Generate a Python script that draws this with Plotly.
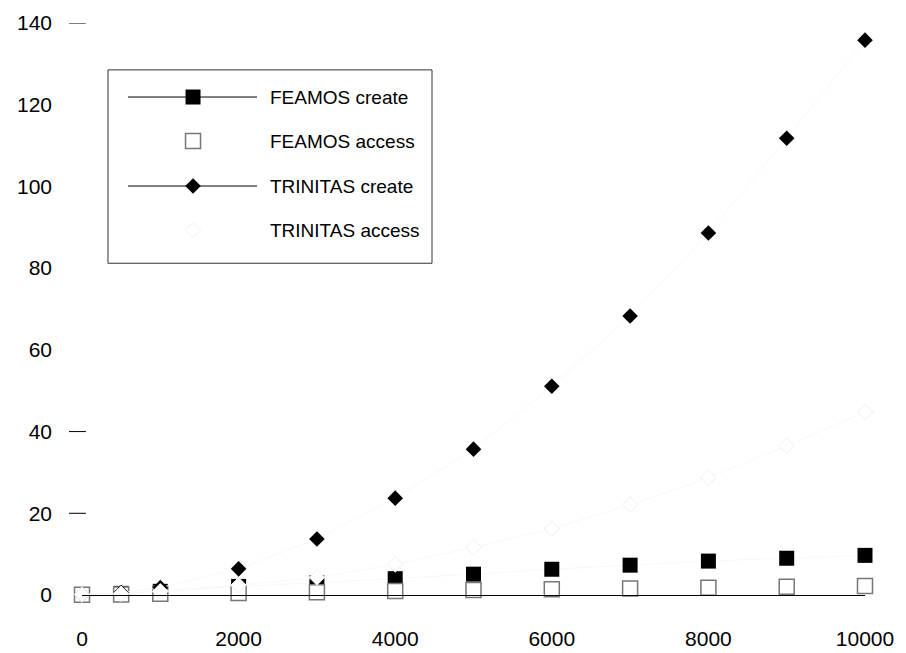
import plotly.graph_objects as go

# Benchmark data: time vs. number of objects
n_objects = [0, 500, 1000, 2000, 3000, 4000, 5000, 6000, 7000, 8000, 9000, 10000]
feamos_create = [0.1, 0.4, 0.9, 2.1, 3.0, 4.0, 5.1, 6.3, 7.3, 8.3, 9.0, 9.7]
feamos_access = [0.05, 0.15, 0.3, 0.5, 0.7, 1.0, 1.2, 1.4, 1.6, 1.8, 2.0, 2.2]
trinitas_create = [0.1, 0.6, 1.8, 6.4, 13.7, 23.7, 35.7, 51.1, 68.3, 88.6, 111.8, 135.8]
trinitas_access = [0.1, 0.3, 0.9, 2.4, 4.3, 7.5, 11.7, 16.2, 22.1, 28.7, 36.5, 44.8]

series_names = ["FEAMOS create", "FEAMOS access", "TRINITAS create", "TRINITAS access"]
y_ticks = [0, 20, 40, 60, 80, 100, 120, 140]
y_tick_marks = [20, 40, 140]
x_ticks = [0, 2000, 4000, 6000, 8000, 10000]

FONT = "Liberation Sans, Arial, sans-serif"
FAINT = "#f8f8f8"

styles = [
    dict(symbol="square", size=15, color="black", line=dict(width=0)),
    dict(symbol="square", size=15, color="white", line=dict(color="#777777", width=1.5)),
    dict(symbol="diamond", size=12, color="black", line=dict(width=0)),
    dict(symbol="diamond", size=12, color="white", line=dict(color="#efefef", width=1)),
]
has_line = [True, False, True, True]
values = [feamos_create, feamos_access, trinitas_create, trinitas_access]

fig = go.Figure()
for name, ys, mk, ln in zip(series_names, values, styles, has_line):
    fig.add_trace(go.Scatter(
        x=n_objects, y=ys, name=name, showlegend=False,
        mode="lines+markers" if ln else "markers",
        line=dict(color=FAINT, width=1),
        marker=mk, cliponaxis=False,
    ))

# Legend box drawn by hand so the sample lines are long
leg_x0, leg_x1, leg_y0, leg_y1 = 0.0332, 0.447, 0.580, 0.918
row_y = [0.8706, 0.7937, 0.7150, 0.6380]
line_x0, line_x1, sym_x, text_x = 0.0587, 0.2235, 0.1418, 0.2375

shapes = [dict(type="rect", xref="paper", yref="paper", x0=leg_x0, x1=leg_x1,
               y0=leg_y0, y1=leg_y1, line=dict(color="#333333", width=1),
               fillcolor="white", layer="below")]
annotations = []
for name, ry, ln in zip(series_names, row_y, [True, False, True, False]):
    if ln:
        shapes.append(dict(type="line", xref="paper", yref="paper", x0=line_x0, x1=line_x1,
                           y0=ry, y1=ry, line=dict(color="black", width=1), layer="below"))
    annotations.append(dict(xref="paper", yref="paper", x=text_x, y=ry, text=name,
                            showarrow=False, xanchor="left", yanchor="middle",
                            font=dict(family=FONT, size=19, color="black")))
for name, ry, mk in zip(series_names, row_y, styles):
    fig.add_trace(go.Scatter(x=[sym_x], y=[ry], xaxis="x2", yaxis="y2", mode="markers",
                             marker=mk, showlegend=False, hoverinfo="skip", cliponaxis=False))

# Short tick dashes beside selected y labels
for t in y_tick_marks:
    shapes.append(dict(type="line", xref="paper", yref="y", x0=-0.0166, x1=0.005,
                       y0=t, y1=t, line=dict(color="black", width=1)))

fig.update_layout(
    width=906, height=653,
    margin=dict(l=82, r=41, t=23, b=58),
    paper_bgcolor="white", plot_bgcolor="white",
    showlegend=False,
    font=dict(family=FONT, size=21, color="black"),
    xaxis=dict(range=[0, 10000], tickvals=x_ticks, ticktext=[str(v) for v in x_ticks],
               ticks="", showgrid=False, automargin=False,
               zeroline=False, showline=True, linecolor="black", linewidth=1,
               ticklabelstandoff=25, tickfont=dict(size=21)),
    yaxis=dict(range=[0, 140], tickvals=y_ticks, ticks="", showgrid=False,
               automargin=False,
               zeroline=False, showline=False, ticklabelstandoff=29,
               tickfont=dict(size=21)),
    xaxis2=dict(overlaying="x", range=[0, 1], visible=False),
    yaxis2=dict(overlaying="y", range=[0, 1], visible=False),
    shapes=shapes, annotations=annotations,
)

fig.write_html("out.html")
